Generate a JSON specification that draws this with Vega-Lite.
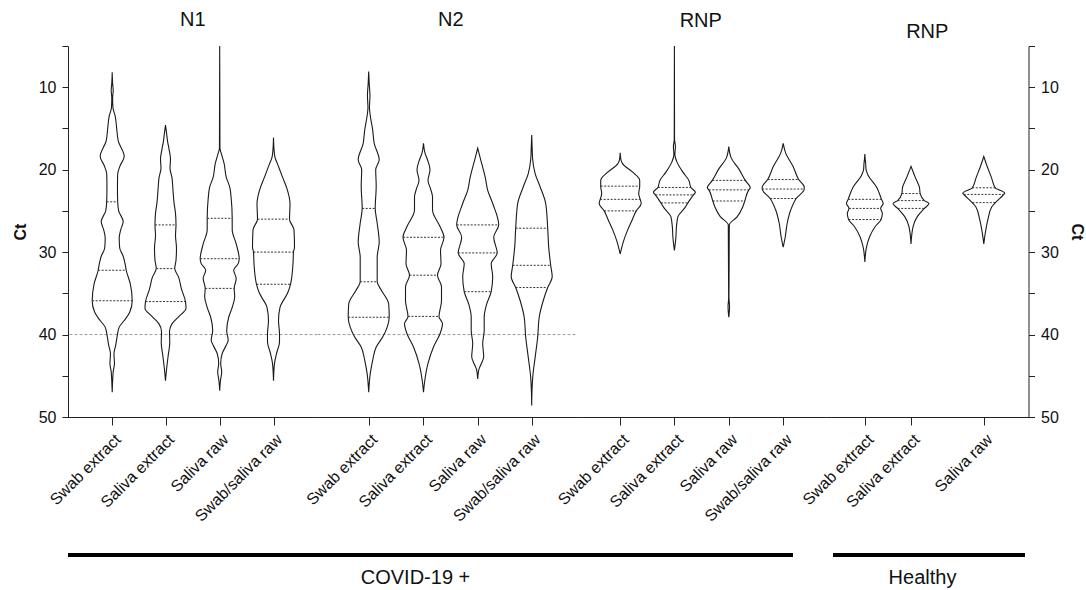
{
"$schema": "https://vega.github.io/schema/vega-lite/v6.json",
"padding": {"left": 12, "top": 9, "right": 0, "bottom": 0},
"data": {"values": [
{"group":"N1","sample":"Swab extract","ct":8.2,"density":0,"q":0},
{"group":"N1","sample":"Swab extract","ct":9.5,"density":0.008,"q":0},
{"group":"N1","sample":"Swab extract","ct":10.4,"density":0.02,"q":0},
{"group":"N1","sample":"Swab extract","ct":11.3,"density":0.008,"q":0},
{"group":"N1","sample":"Swab extract","ct":12.5,"density":0.015,"q":0},
{"group":"N1","sample":"Swab extract","ct":13.5,"density":0.06,"q":0},
{"group":"N1","sample":"Swab extract","ct":15,"density":0.09,"q":0},
{"group":"N1","sample":"Swab extract","ct":16.5,"density":0.12,"q":0},
{"group":"N1","sample":"Swab extract","ct":18.4,"density":0.24,"q":0},
{"group":"N1","sample":"Swab extract","ct":19.5,"density":0.16,"q":0},
{"group":"N1","sample":"Swab extract","ct":20.5,"density":0.11,"q":0},
{"group":"N1","sample":"Swab extract","ct":22,"density":0.105,"q":0},
{"group":"N1","sample":"Swab extract","ct":23.9,"density":0.11,"q":1},
{"group":"N1","sample":"Swab extract","ct":25,"density":0.13,"q":0},
{"group":"N1","sample":"Swab extract","ct":26.3,"density":0.22,"q":0},
{"group":"N1","sample":"Swab extract","ct":27.3,"density":0.17,"q":0},
{"group":"N1","sample":"Swab extract","ct":28.3,"density":0.14,"q":0},
{"group":"N1","sample":"Swab extract","ct":29.5,"density":0.15,"q":0},
{"group":"N1","sample":"Swab extract","ct":30.5,"density":0.22,"q":0},
{"group":"N1","sample":"Swab extract","ct":31.5,"density":0.26,"q":0},
{"group":"N1","sample":"Swab extract","ct":32.2,"density":0.28,"q":1},
{"group":"N1","sample":"Swab extract","ct":33.8,"density":0.36,"q":0},
{"group":"N1","sample":"Swab extract","ct":35.9,"density":0.4,"q":1},
{"group":"N1","sample":"Swab extract","ct":37.3,"density":0.35,"q":0},
{"group":"N1","sample":"Swab extract","ct":38.3,"density":0.24,"q":0},
{"group":"N1","sample":"Swab extract","ct":39.1,"density":0.14,"q":0},
{"group":"N1","sample":"Swab extract","ct":40.2,"density":0.1,"q":0},
{"group":"N1","sample":"Swab extract","ct":41.3,"density":0.07,"q":0},
{"group":"N1","sample":"Swab extract","ct":42.3,"density":0.035,"q":0},
{"group":"N1","sample":"Swab extract","ct":43.5,"density":0.045,"q":0},
{"group":"N1","sample":"Swab extract","ct":44.5,"density":0.02,"q":0},
{"group":"N1","sample":"Swab extract","ct":45.5,"density":0.01,"q":0},
{"group":"N1","sample":"Swab extract","ct":47,"density":0,"q":0},
{"group":"N1","sample":"Saliva extract","ct":14.6,"density":0,"q":0},
{"group":"N1","sample":"Saliva extract","ct":15.5,"density":0.02,"q":0},
{"group":"N1","sample":"Saliva extract","ct":16.5,"density":0.04,"q":0},
{"group":"N1","sample":"Saliva extract","ct":17.5,"density":0.07,"q":0},
{"group":"N1","sample":"Saliva extract","ct":18.7,"density":0.1,"q":0},
{"group":"N1","sample":"Saliva extract","ct":19.8,"density":0.09,"q":0},
{"group":"N1","sample":"Saliva extract","ct":21,"density":0.13,"q":0},
{"group":"N1","sample":"Saliva extract","ct":22.5,"density":0.15,"q":0},
{"group":"N1","sample":"Saliva extract","ct":24,"density":0.17,"q":0},
{"group":"N1","sample":"Saliva extract","ct":25.3,"density":0.2,"q":0},
{"group":"N1","sample":"Saliva extract","ct":26.7,"density":0.21,"q":1},
{"group":"N1","sample":"Saliva extract","ct":28,"density":0.2,"q":0},
{"group":"N1","sample":"Saliva extract","ct":29.5,"density":0.22,"q":0},
{"group":"N1","sample":"Saliva extract","ct":31,"density":0.21,"q":0},
{"group":"N1","sample":"Saliva extract","ct":32,"density":0.185,"q":1},
{"group":"N1","sample":"Saliva extract","ct":33,"density":0.26,"q":0},
{"group":"N1","sample":"Saliva extract","ct":34.5,"density":0.32,"q":0},
{"group":"N1","sample":"Saliva extract","ct":36,"density":0.4,"q":1},
{"group":"N1","sample":"Saliva extract","ct":36.8,"density":0.41,"q":0},
{"group":"N1","sample":"Saliva extract","ct":37.8,"density":0.27,"q":0},
{"group":"N1","sample":"Saliva extract","ct":38.7,"density":0.13,"q":0},
{"group":"N1","sample":"Saliva extract","ct":39.6,"density":0.08,"q":0},
{"group":"N1","sample":"Saliva extract","ct":41,"density":0.085,"q":0},
{"group":"N1","sample":"Saliva extract","ct":42.5,"density":0.055,"q":0},
{"group":"N1","sample":"Saliva extract","ct":44,"density":0.025,"q":0},
{"group":"N1","sample":"Saliva extract","ct":45.6,"density":0,"q":0},
{"group":"N1","sample":"Saliva raw","ct":5,"density":0,"q":0},
{"group":"N1","sample":"Saliva raw","ct":17.4,"density":0.005,"q":0},
{"group":"N1","sample":"Saliva raw","ct":18,"density":0.03,"q":0},
{"group":"N1","sample":"Saliva raw","ct":19.3,"density":0.09,"q":0},
{"group":"N1","sample":"Saliva raw","ct":20.9,"density":0.13,"q":0},
{"group":"N1","sample":"Saliva raw","ct":22.1,"density":0.2,"q":0},
{"group":"N1","sample":"Saliva raw","ct":23.5,"density":0.23,"q":0},
{"group":"N1","sample":"Saliva raw","ct":25.9,"density":0.25,"q":1},
{"group":"N1","sample":"Saliva raw","ct":27.3,"density":0.25,"q":0},
{"group":"N1","sample":"Saliva raw","ct":29,"density":0.33,"q":0},
{"group":"N1","sample":"Saliva raw","ct":30.8,"density":0.39,"q":1},
{"group":"N1","sample":"Saliva raw","ct":31.4,"density":0.37,"q":0},
{"group":"N1","sample":"Saliva raw","ct":32.2,"density":0.28,"q":0},
{"group":"N1","sample":"Saliva raw","ct":33.2,"density":0.33,"q":0},
{"group":"N1","sample":"Saliva raw","ct":34.4,"density":0.29,"q":1},
{"group":"N1","sample":"Saliva raw","ct":35.4,"density":0.3,"q":0},
{"group":"N1","sample":"Saliva raw","ct":36.7,"density":0.25,"q":0},
{"group":"N1","sample":"Saliva raw","ct":37.9,"density":0.18,"q":0},
{"group":"N1","sample":"Saliva raw","ct":39.5,"density":0.14,"q":0},
{"group":"N1","sample":"Saliva raw","ct":40.7,"density":0.17,"q":0},
{"group":"N1","sample":"Saliva raw","ct":41.3,"density":0.13,"q":0},
{"group":"N1","sample":"Saliva raw","ct":42.3,"density":0.05,"q":0},
{"group":"N1","sample":"Saliva raw","ct":43.5,"density":0.02,"q":0},
{"group":"N1","sample":"Saliva raw","ct":44.5,"density":0.04,"q":0},
{"group":"N1","sample":"Saliva raw","ct":45.6,"density":0.015,"q":0},
{"group":"N1","sample":"Saliva raw","ct":46.8,"density":0,"q":0},
{"group":"N1","sample":"Swab/saliva raw","ct":16.1,"density":0,"q":0},
{"group":"N1","sample":"Swab/saliva raw","ct":17.5,"density":0.01,"q":0},
{"group":"N1","sample":"Swab/saliva raw","ct":18.5,"density":0.03,"q":0},
{"group":"N1","sample":"Swab/saliva raw","ct":19.3,"density":0.08,"q":0},
{"group":"N1","sample":"Swab/saliva raw","ct":20.9,"density":0.18,"q":0},
{"group":"N1","sample":"Swab/saliva raw","ct":22.5,"density":0.28,"q":0},
{"group":"N1","sample":"Swab/saliva raw","ct":24.1,"density":0.33,"q":0},
{"group":"N1","sample":"Swab/saliva raw","ct":26,"density":0.32,"q":1},
{"group":"N1","sample":"Swab/saliva raw","ct":27.3,"density":0.41,"q":0},
{"group":"N1","sample":"Swab/saliva raw","ct":29.4,"density":0.42,"q":0},
{"group":"N1","sample":"Swab/saliva raw","ct":30,"density":0.4,"q":1},
{"group":"N1","sample":"Swab/saliva raw","ct":31.4,"density":0.39,"q":0},
{"group":"N1","sample":"Swab/saliva raw","ct":33.9,"density":0.34,"q":1},
{"group":"N1","sample":"Swab/saliva raw","ct":35,"density":0.28,"q":0},
{"group":"N1","sample":"Swab/saliva raw","ct":36.7,"density":0.13,"q":0},
{"group":"N1","sample":"Swab/saliva raw","ct":38.3,"density":0.1,"q":0},
{"group":"N1","sample":"Swab/saliva raw","ct":39.9,"density":0.12,"q":0},
{"group":"N1","sample":"Swab/saliva raw","ct":40.9,"density":0.12,"q":0},
{"group":"N1","sample":"Swab/saliva raw","ct":42.3,"density":0.06,"q":0},
{"group":"N1","sample":"Swab/saliva raw","ct":43.5,"density":0.02,"q":0},
{"group":"N1","sample":"Swab/saliva raw","ct":45.6,"density":0,"q":0},
{"group":"N2","sample":"Swab extract","ct":8.1,"density":0,"q":0},
{"group":"N2","sample":"Swab extract","ct":9.5,"density":0.01,"q":0},
{"group":"N2","sample":"Swab extract","ct":11,"density":0.025,"q":0},
{"group":"N2","sample":"Swab extract","ct":12.5,"density":0.015,"q":0},
{"group":"N2","sample":"Swab extract","ct":13.4,"density":0.03,"q":0},
{"group":"N2","sample":"Swab extract","ct":15.2,"density":0.08,"q":0},
{"group":"N2","sample":"Swab extract","ct":16.8,"density":0.11,"q":0},
{"group":"N2","sample":"Swab extract","ct":18.8,"density":0.21,"q":0},
{"group":"N2","sample":"Swab extract","ct":20,"density":0.14,"q":0},
{"group":"N2","sample":"Swab extract","ct":22,"density":0.15,"q":0},
{"group":"N2","sample":"Swab extract","ct":24.7,"density":0.13,"q":1},
{"group":"N2","sample":"Swab extract","ct":26.5,"density":0.17,"q":0},
{"group":"N2","sample":"Swab extract","ct":28.8,"density":0.21,"q":0},
{"group":"N2","sample":"Swab extract","ct":30.6,"density":0.17,"q":0},
{"group":"N2","sample":"Swab extract","ct":33.6,"density":0.17,"q":1},
{"group":"N2","sample":"Swab extract","ct":34.6,"density":0.25,"q":0},
{"group":"N2","sample":"Swab extract","ct":36.3,"density":0.4,"q":0},
{"group":"N2","sample":"Swab extract","ct":37.9,"density":0.41,"q":1},
{"group":"N2","sample":"Swab extract","ct":39.1,"density":0.37,"q":0},
{"group":"N2","sample":"Swab extract","ct":40.3,"density":0.28,"q":0},
{"group":"N2","sample":"Swab extract","ct":41.5,"density":0.15,"q":0},
{"group":"N2","sample":"Swab extract","ct":43.1,"density":0.08,"q":0},
{"group":"N2","sample":"Swab extract","ct":44.8,"density":0.03,"q":0},
{"group":"N2","sample":"Swab extract","ct":47,"density":0,"q":0},
{"group":"N2","sample":"Saliva extract","ct":16.8,"density":0,"q":0},
{"group":"N2","sample":"Saliva extract","ct":18,"density":0.03,"q":0},
{"group":"N2","sample":"Saliva extract","ct":18.8,"density":0.08,"q":0},
{"group":"N2","sample":"Saliva extract","ct":20,"density":0.13,"q":0},
{"group":"N2","sample":"Saliva extract","ct":21.3,"density":0.09,"q":0},
{"group":"N2","sample":"Saliva extract","ct":22.3,"density":0.14,"q":0},
{"group":"N2","sample":"Saliva extract","ct":23.3,"density":0.18,"q":0},
{"group":"N2","sample":"Saliva extract","ct":24.9,"density":0.18,"q":0},
{"group":"N2","sample":"Saliva extract","ct":26.9,"density":0.33,"q":0},
{"group":"N2","sample":"Saliva extract","ct":28.2,"density":0.41,"q":1},
{"group":"N2","sample":"Saliva extract","ct":29.8,"density":0.34,"q":0},
{"group":"N2","sample":"Saliva extract","ct":31.4,"density":0.35,"q":0},
{"group":"N2","sample":"Saliva extract","ct":32.8,"density":0.28,"q":1},
{"group":"N2","sample":"Saliva extract","ct":34.2,"density":0.36,"q":0},
{"group":"N2","sample":"Saliva extract","ct":35.9,"density":0.36,"q":0},
{"group":"N2","sample":"Saliva extract","ct":37.8,"density":0.31,"q":1},
{"group":"N2","sample":"Saliva extract","ct":38.7,"density":0.38,"q":0},
{"group":"N2","sample":"Saliva extract","ct":39.9,"density":0.33,"q":0},
{"group":"N2","sample":"Saliva extract","ct":41.5,"density":0.2,"q":0},
{"group":"N2","sample":"Saliva extract","ct":43.5,"density":0.09,"q":0},
{"group":"N2","sample":"Saliva extract","ct":45.6,"density":0.025,"q":0},
{"group":"N2","sample":"Saliva extract","ct":47,"density":0,"q":0},
{"group":"N2","sample":"Saliva raw","ct":17.4,"density":0,"q":0},
{"group":"N2","sample":"Saliva raw","ct":18.8,"density":0.06,"q":0},
{"group":"N2","sample":"Saliva raw","ct":20.9,"density":0.15,"q":0},
{"group":"N2","sample":"Saliva raw","ct":22.5,"density":0.2,"q":0},
{"group":"N2","sample":"Saliva raw","ct":24.1,"density":0.3,"q":0},
{"group":"N2","sample":"Saliva raw","ct":26.7,"density":0.42,"q":1},
{"group":"N2","sample":"Saliva raw","ct":28.2,"density":0.32,"q":0},
{"group":"N2","sample":"Saliva raw","ct":30.1,"density":0.39,"q":1},
{"group":"N2","sample":"Saliva raw","ct":31.4,"density":0.27,"q":0},
{"group":"N2","sample":"Saliva raw","ct":33,"density":0.3,"q":0},
{"group":"N2","sample":"Saliva raw","ct":34.8,"density":0.27,"q":1},
{"group":"N2","sample":"Saliva raw","ct":36.3,"density":0.18,"q":0},
{"group":"N2","sample":"Saliva raw","ct":37.9,"density":0.13,"q":0},
{"group":"N2","sample":"Saliva raw","ct":39.5,"density":0.13,"q":0},
{"group":"N2","sample":"Saliva raw","ct":41.1,"density":0.1,"q":0},
{"group":"N2","sample":"Saliva raw","ct":42.7,"density":0.12,"q":0},
{"group":"N2","sample":"Saliva raw","ct":43.7,"density":0.06,"q":0},
{"group":"N2","sample":"Saliva raw","ct":44.3,"density":0.02,"q":0},
{"group":"N2","sample":"Saliva raw","ct":45.4,"density":0,"q":0},
{"group":"N2","sample":"Swab/saliva raw","ct":15.8,"density":0,"q":0},
{"group":"N2","sample":"Swab/saliva raw","ct":17.5,"density":0.01,"q":0},
{"group":"N2","sample":"Swab/saliva raw","ct":18.8,"density":0.02,"q":0},
{"group":"N2","sample":"Swab/saliva raw","ct":20.5,"density":0.07,"q":0},
{"group":"N2","sample":"Swab/saliva raw","ct":22.1,"density":0.17,"q":0},
{"group":"N2","sample":"Swab/saliva raw","ct":24.1,"density":0.28,"q":0},
{"group":"N2","sample":"Swab/saliva raw","ct":27.1,"density":0.32,"q":1},
{"group":"N2","sample":"Swab/saliva raw","ct":29.4,"density":0.34,"q":0},
{"group":"N2","sample":"Swab/saliva raw","ct":31.6,"density":0.38,"q":1},
{"group":"N2","sample":"Swab/saliva raw","ct":33,"density":0.41,"q":0},
{"group":"N2","sample":"Swab/saliva raw","ct":34.3,"density":0.32,"q":1},
{"group":"N2","sample":"Swab/saliva raw","ct":35.9,"density":0.23,"q":0},
{"group":"N2","sample":"Swab/saliva raw","ct":37.9,"density":0.15,"q":0},
{"group":"N2","sample":"Swab/saliva raw","ct":40.3,"density":0.12,"q":0},
{"group":"N2","sample":"Swab/saliva raw","ct":42.7,"density":0.07,"q":0},
{"group":"N2","sample":"Swab/saliva raw","ct":45.2,"density":0.02,"q":0},
{"group":"N2","sample":"Swab/saliva raw","ct":46.8,"density":0.006,"q":0},
{"group":"N2","sample":"Swab/saliva raw","ct":48.6,"density":0,"q":0},
{"group":"RNP","sample":"Swab extract","ct":17.95,"density":0,"q":0},
{"group":"RNP","sample":"Swab extract","ct":18.8,"density":0.015,"q":0},
{"group":"RNP","sample":"Swab extract","ct":19.3,"density":0.05,"q":0},
{"group":"RNP","sample":"Swab extract","ct":20.3,"density":0.25,"q":0},
{"group":"RNP","sample":"Swab extract","ct":21.3,"density":0.39,"q":0},
{"group":"RNP","sample":"Swab extract","ct":22,"density":0.39,"q":1},
{"group":"RNP","sample":"Swab extract","ct":22.9,"density":0.37,"q":0},
{"group":"RNP","sample":"Swab extract","ct":23.6,"density":0.4,"q":1},
{"group":"RNP","sample":"Swab extract","ct":24.1,"density":0.42,"q":0},
{"group":"RNP","sample":"Swab extract","ct":25,"density":0.32,"q":1},
{"group":"RNP","sample":"Swab extract","ct":26.1,"density":0.24,"q":0},
{"group":"RNP","sample":"Swab extract","ct":27.3,"density":0.15,"q":0},
{"group":"RNP","sample":"Swab extract","ct":28.6,"density":0.07,"q":0},
{"group":"RNP","sample":"Swab extract","ct":30.2,"density":0,"q":0},
{"group":"RNP","sample":"Saliva extract","ct":5,"density":0,"q":0},
{"group":"RNP","sample":"Saliva extract","ct":16.3,"density":0.003,"q":0},
{"group":"RNP","sample":"Saliva extract","ct":17.2,"density":0.02,"q":0},
{"group":"RNP","sample":"Saliva extract","ct":18.2,"density":0.01,"q":0},
{"group":"RNP","sample":"Saliva extract","ct":19.05,"density":0.05,"q":0},
{"group":"RNP","sample":"Saliva extract","ct":20.3,"density":0.17,"q":0},
{"group":"RNP","sample":"Saliva extract","ct":21.3,"density":0.29,"q":0},
{"group":"RNP","sample":"Saliva extract","ct":22.16,"density":0.33,"q":1},
{"group":"RNP","sample":"Saliva extract","ct":22.75,"density":0.42,"q":0},
{"group":"RNP","sample":"Saliva extract","ct":23.06,"density":0.38,"q":1},
{"group":"RNP","sample":"Saliva extract","ct":24.03,"density":0.27,"q":1},
{"group":"RNP","sample":"Saliva extract","ct":24.7,"density":0.2,"q":0},
{"group":"RNP","sample":"Saliva extract","ct":25.7,"density":0.07,"q":0},
{"group":"RNP","sample":"Saliva extract","ct":27,"density":0.04,"q":0},
{"group":"RNP","sample":"Saliva extract","ct":28.2,"density":0.03,"q":0},
{"group":"RNP","sample":"Saliva extract","ct":29.8,"density":0,"q":0},
{"group":"RNP","sample":"Saliva raw","ct":17.2,"density":0,"q":0},
{"group":"RNP","sample":"Saliva raw","ct":18.6,"density":0.05,"q":0},
{"group":"RNP","sample":"Saliva raw","ct":19.9,"density":0.2,"q":0},
{"group":"RNP","sample":"Saliva raw","ct":21.3,"density":0.33,"q":1},
{"group":"RNP","sample":"Saliva raw","ct":22.2,"density":0.43,"q":0},
{"group":"RNP","sample":"Saliva raw","ct":22.45,"density":0.4,"q":1},
{"group":"RNP","sample":"Saliva raw","ct":23.8,"density":0.32,"q":1},
{"group":"RNP","sample":"Saliva raw","ct":24.5,"density":0.28,"q":0},
{"group":"RNP","sample":"Saliva raw","ct":25.7,"density":0.17,"q":0},
{"group":"RNP","sample":"Saliva raw","ct":26.7,"density":0.01,"q":0},
{"group":"RNP","sample":"Saliva raw","ct":35.5,"density":0.003,"q":0},
{"group":"RNP","sample":"Saliva raw","ct":36.6,"density":0.015,"q":0},
{"group":"RNP","sample":"Saliva raw","ct":37.3,"density":0.01,"q":0},
{"group":"RNP","sample":"Saliva raw","ct":37.9,"density":0,"q":0},
{"group":"RNP","sample":"Swab/saliva raw","ct":16.8,"density":0,"q":0},
{"group":"RNP","sample":"Swab/saliva raw","ct":18,"density":0.05,"q":0},
{"group":"RNP","sample":"Swab/saliva raw","ct":19.65,"density":0.2,"q":0},
{"group":"RNP","sample":"Swab/saliva raw","ct":21.2,"density":0.31,"q":1},
{"group":"RNP","sample":"Swab/saliva raw","ct":22.1,"density":0.42,"q":0},
{"group":"RNP","sample":"Swab/saliva raw","ct":22.35,"density":0.42,"q":1},
{"group":"RNP","sample":"Swab/saliva raw","ct":23.5,"density":0.26,"q":1},
{"group":"RNP","sample":"Swab/saliva raw","ct":24.9,"density":0.15,"q":0},
{"group":"RNP","sample":"Swab/saliva raw","ct":26.5,"density":0.08,"q":0},
{"group":"RNP","sample":"Swab/saliva raw","ct":28.2,"density":0.04,"q":0},
{"group":"RNP","sample":"Swab/saliva raw","ct":29.4,"density":0,"q":0},
{"group":"RNP healthy","sample":"Swab extract","ct":18.1,"density":0,"q":0},
{"group":"RNP healthy","sample":"Swab extract","ct":18.8,"density":0.01,"q":0},
{"group":"RNP healthy","sample":"Swab extract","ct":19.25,"density":0.02,"q":0},
{"group":"RNP healthy","sample":"Swab extract","ct":20,"density":0.03,"q":0},
{"group":"RNP healthy","sample":"Swab extract","ct":20.7,"density":0.08,"q":0},
{"group":"RNP healthy","sample":"Swab extract","ct":22.1,"density":0.28,"q":0},
{"group":"RNP healthy","sample":"Swab extract","ct":23.6,"density":0.4,"q":1},
{"group":"RNP healthy","sample":"Swab extract","ct":24.1,"density":0.44,"q":0},
{"group":"RNP healthy","sample":"Swab extract","ct":24.7,"density":0.38,"q":1},
{"group":"RNP healthy","sample":"Swab extract","ct":25.3,"density":0.42,"q":0},
{"group":"RNP healthy","sample":"Swab extract","ct":26.05,"density":0.39,"q":1},
{"group":"RNP healthy","sample":"Swab extract","ct":26.9,"density":0.25,"q":0},
{"group":"RNP healthy","sample":"Swab extract","ct":28.2,"density":0.11,"q":0},
{"group":"RNP healthy","sample":"Swab extract","ct":29.4,"density":0.04,"q":0},
{"group":"RNP healthy","sample":"Swab extract","ct":31.2,"density":0,"q":0},
{"group":"RNP healthy","sample":"Saliva extract","ct":19.6,"density":0,"q":0},
{"group":"RNP healthy","sample":"Saliva extract","ct":20.9,"density":0.1,"q":0},
{"group":"RNP healthy","sample":"Saliva extract","ct":22.1,"density":0.2,"q":0},
{"group":"RNP healthy","sample":"Saliva extract","ct":22.9,"density":0.22,"q":1},
{"group":"RNP healthy","sample":"Saliva extract","ct":23.75,"density":0.32,"q":1},
{"group":"RNP healthy","sample":"Saliva extract","ct":24.1,"density":0.43,"q":0},
{"group":"RNP healthy","sample":"Saliva extract","ct":24.7,"density":0.32,"q":1},
{"group":"RNP healthy","sample":"Saliva extract","ct":25.7,"density":0.15,"q":0},
{"group":"RNP healthy","sample":"Saliva extract","ct":26.9,"density":0.05,"q":0},
{"group":"RNP healthy","sample":"Saliva extract","ct":29,"density":0,"q":0},
{"group":"RNP healthy","sample":"Saliva raw","ct":18.4,"density":0,"q":0},
{"group":"RNP healthy","sample":"Saliva raw","ct":19.65,"density":0.07,"q":0},
{"group":"RNP healthy","sample":"Saliva raw","ct":20.9,"density":0.15,"q":0},
{"group":"RNP healthy","sample":"Saliva raw","ct":22.2,"density":0.23,"q":1},
{"group":"RNP healthy","sample":"Saliva raw","ct":22.85,"density":0.42,"q":0},
{"group":"RNP healthy","sample":"Saliva raw","ct":23,"density":0.4,"q":1},
{"group":"RNP healthy","sample":"Saliva raw","ct":24,"density":0.23,"q":1},
{"group":"RNP healthy","sample":"Saliva raw","ct":24.5,"density":0.16,"q":0},
{"group":"RNP healthy","sample":"Saliva raw","ct":26.1,"density":0.08,"q":0},
{"group":"RNP healthy","sample":"Saliva raw","ct":27.3,"density":0.04,"q":0},
{"group":"RNP healthy","sample":"Saliva raw","ct":29,"density":0,"q":0}
]},
"transform": [{"stack": "density", "groupby": ["group", "sample", "ct"], "offset": "center", "as": ["d0", "d1"]}],
"spacing": 26,
"vconcat": [
{
"hconcat": [
{
"width": 249.5, "height": 371,
"title": {"text": "N1", "offset": 7.8},
"encoding": {"y": {"field": "ct", "type": "quantitative", "scale": {"domain": [5, 50], "reverse": true, "zero": false, "nice": false},
  "axis": {"orient": "left", "values": [5,10,15,20,25,30,35,40,45,50], "labelExpr": "datum.value % 10 === 0 ? datum.label : ''", "title": "Ct"}}},
"layer": [
{"data": {"values": [{"ct": 40}]}, "mark": {"type": "rule", "color": "#9a9a9a", "strokeDash": [3, 2], "strokeWidth": 1}},
{"transform": [{"filter": "datum.group === 'N1' && datum.sample === 'Swab extract'"}],
 "encoding": {"x": {"field": "d0", "type": "quantitative", "stack": null, "title": null, "scale": {"domain": [-0.222, 2.273], "zero": false, "nice": false}, "axis": {"orient": "bottom", "values": [0.22], "labelExpr": "'Swab extract'"}}, "x2": {"field": "d1"}},
 "layer": [{"mark": {"type": "area", "orient": "horizontal", "interpolate": "monotone", "fillOpacity": 0, "stroke": "#1a1a1a", "strokeWidth": 1.1}},
  {"transform": [{"filter": "datum.q === 1"}], "mark": {"type": "rule", "strokeDash": [2, 1.5], "strokeWidth": 1, "color": "#333"}}]},
{"transform": [{"filter": "datum.group === 'N1' && datum.sample === 'Saliva extract'"}],
 "encoding": {"x": {"field": "d0", "type": "quantitative", "stack": null, "title": null, "scale": {"domain": [-0.755, 1.74], "zero": false, "nice": false}, "axis": {"orient": "bottom", "values": [0.22], "labelExpr": "'Saliva extract'"}}, "x2": {"field": "d1"}},
 "layer": [{"mark": {"type": "area", "orient": "horizontal", "interpolate": "monotone", "fillOpacity": 0, "stroke": "#1a1a1a", "strokeWidth": 1.1}},
  {"transform": [{"filter": "datum.q === 1"}], "mark": {"type": "rule", "strokeDash": [2, 1.5], "strokeWidth": 1, "color": "#333"}}]},
{"transform": [{"filter": "datum.group === 'N1' && datum.sample === 'Saliva raw'"}],
 "encoding": {"x": {"field": "d0", "type": "quantitative", "stack": null, "title": null, "scale": {"domain": [-1.297, 1.198], "zero": false, "nice": false}, "axis": {"orient": "bottom", "values": [0.22], "labelExpr": "'Saliva raw'"}}, "x2": {"field": "d1"}},
 "layer": [{"mark": {"type": "area", "orient": "horizontal", "interpolate": "monotone", "fillOpacity": 0, "stroke": "#1a1a1a", "strokeWidth": 1.1}},
  {"transform": [{"filter": "datum.q === 1"}], "mark": {"type": "rule", "strokeDash": [2, 1.5], "strokeWidth": 1, "color": "#333"}}]},
{"transform": [{"filter": "datum.group === 'N1' && datum.sample === 'Swab/saliva raw'"}],
 "encoding": {"x": {"field": "d0", "type": "quantitative", "stack": null, "title": null, "scale": {"domain": [-1.835, 0.66], "zero": false, "nice": false}, "axis": {"orient": "bottom", "values": [0.22], "labelExpr": "'Swab/saliva raw'"}}, "x2": {"field": "d1"}},
 "layer": [{"mark": {"type": "area", "orient": "horizontal", "interpolate": "monotone", "fillOpacity": 0, "stroke": "#1a1a1a", "strokeWidth": 1.1}},
  {"transform": [{"filter": "datum.q === 1"}], "mark": {"type": "rule", "strokeDash": [2, 1.5], "strokeWidth": 1, "color": "#333"}}]}
],
"resolve": {"scale": {"x": "independent"}, "axis": {"x": "independent"}}
},
{
"width": 257.5, "height": 371,
"title": {"text": "N2", "dx": 4, "offset": 16.3},
"encoding": {"y": {"field": "ct", "type": "quantitative", "scale": {"domain": [5, 50], "reverse": true, "zero": false, "nice": false}, "axis": null}},
"layer": [
{"data": {"values": [{"ct": 40}]}, "mark": {"type": "rule", "color": "#9a9a9a", "strokeDash": [3, 2], "strokeWidth": 1}},
{"transform": [{"filter": "datum.group === 'N2' && datum.sample === 'Swab extract'"}],
 "encoding": {"x": {"field": "d0", "type": "quantitative", "stack": null, "title": null, "scale": {"domain": [-0.287, 2.288], "zero": false, "nice": false}, "axis": {"orient": "bottom", "values": [0.22], "labelExpr": "'Swab extract'"}}, "x2": {"field": "d1"}},
 "layer": [{"mark": {"type": "area", "orient": "horizontal", "interpolate": "monotone", "fillOpacity": 0, "stroke": "#1a1a1a", "strokeWidth": 1.1}},
  {"transform": [{"filter": "datum.q === 1"}], "mark": {"type": "rule", "strokeDash": [2, 1.5], "strokeWidth": 1, "color": "#333"}}]},
{"transform": [{"filter": "datum.group === 'N2' && datum.sample === 'Saliva extract'"}],
 "encoding": {"x": {"field": "d0", "type": "quantitative", "stack": null, "title": null, "scale": {"domain": [-0.835, 1.74], "zero": false, "nice": false}, "axis": {"orient": "bottom", "values": [0.22], "labelExpr": "'Saliva extract'"}}, "x2": {"field": "d1"}},
 "layer": [{"mark": {"type": "area", "orient": "horizontal", "interpolate": "monotone", "fillOpacity": 0, "stroke": "#1a1a1a", "strokeWidth": 1.1}},
  {"transform": [{"filter": "datum.q === 1"}], "mark": {"type": "rule", "strokeDash": [2, 1.5], "strokeWidth": 1, "color": "#333"}}]},
{"transform": [{"filter": "datum.group === 'N2' && datum.sample === 'Saliva raw'"}],
 "encoding": {"x": {"field": "d0", "type": "quantitative", "stack": null, "title": null, "scale": {"domain": [-1.377, 1.198], "zero": false, "nice": false}, "axis": {"orient": "bottom", "values": [0.22], "labelExpr": "'Saliva raw'"}}, "x2": {"field": "d1"}},
 "layer": [{"mark": {"type": "area", "orient": "horizontal", "interpolate": "monotone", "fillOpacity": 0, "stroke": "#1a1a1a", "strokeWidth": 1.1}},
  {"transform": [{"filter": "datum.q === 1"}], "mark": {"type": "rule", "strokeDash": [2, 1.5], "strokeWidth": 1, "color": "#333"}}]},
{"transform": [{"filter": "datum.group === 'N2' && datum.sample === 'Swab/saliva raw'"}],
 "encoding": {"x": {"field": "d0", "type": "quantitative", "stack": null, "title": null, "scale": {"domain": [-1.917, 0.658], "zero": false, "nice": false}, "axis": {"orient": "bottom", "values": [0.22], "labelExpr": "'Swab/saliva raw'"}}, "x2": {"field": "d1"}},
 "layer": [{"mark": {"type": "area", "orient": "horizontal", "interpolate": "monotone", "fillOpacity": 0, "stroke": "#1a1a1a", "strokeWidth": 1.1}},
  {"transform": [{"filter": "datum.q === 1"}], "mark": {"type": "rule", "strokeDash": [2, 1.5], "strokeWidth": 1, "color": "#333"}}]}
],
"resolve": {"scale": {"x": "independent"}, "axis": {"x": "independent"}}
},
{
"width": 249.5, "height": 371,
"title": {"text": "RNP", "offset": 13.3},
"encoding": {"y": {"field": "ct", "type": "quantitative", "scale": {"domain": [5, 50], "reverse": true, "zero": false, "nice": false}, "axis": null}},
"layer": [
{"transform": [{"filter": "datum.group === 'RNP' && datum.sample === 'Swab extract'"}],
 "encoding": {"x": {"field": "d0", "type": "quantitative", "stack": null, "title": null, "scale": {"domain": [-0.222, 2.273], "zero": false, "nice": false}, "axis": {"orient": "bottom", "values": [0.22], "labelExpr": "'Swab extract'"}}, "x2": {"field": "d1"}},
 "layer": [{"mark": {"type": "area", "orient": "horizontal", "interpolate": "monotone", "fillOpacity": 0, "stroke": "#1a1a1a", "strokeWidth": 1.1}},
  {"transform": [{"filter": "datum.q === 1"}], "mark": {"type": "rule", "strokeDash": [2, 1.5], "strokeWidth": 1, "color": "#333"}}]},
{"transform": [{"filter": "datum.group === 'RNP' && datum.sample === 'Saliva extract'"}],
 "encoding": {"x": {"field": "d0", "type": "quantitative", "stack": null, "title": null, "scale": {"domain": [-0.764, 1.731], "zero": false, "nice": false}, "axis": {"orient": "bottom", "values": [0.22], "labelExpr": "'Saliva extract'"}}, "x2": {"field": "d1"}},
 "layer": [{"mark": {"type": "area", "orient": "horizontal", "interpolate": "monotone", "fillOpacity": 0, "stroke": "#1a1a1a", "strokeWidth": 1.1}},
  {"transform": [{"filter": "datum.q === 1"}], "mark": {"type": "rule", "strokeDash": [2, 1.5], "strokeWidth": 1, "color": "#333"}}]},
{"transform": [{"filter": "datum.group === 'RNP' && datum.sample === 'Saliva raw'"}],
 "encoding": {"x": {"field": "d0", "type": "quantitative", "stack": null, "title": null, "scale": {"domain": [-1.308, 1.187], "zero": false, "nice": false}, "axis": {"orient": "bottom", "values": [0.22], "labelExpr": "'Saliva raw'"}}, "x2": {"field": "d1"}},
 "layer": [{"mark": {"type": "area", "orient": "horizontal", "interpolate": "monotone", "fillOpacity": 0, "stroke": "#1a1a1a", "strokeWidth": 1.1}},
  {"transform": [{"filter": "datum.q === 1"}], "mark": {"type": "rule", "strokeDash": [2, 1.5], "strokeWidth": 1, "color": "#333"}}]},
{"transform": [{"filter": "datum.group === 'RNP' && datum.sample === 'Swab/saliva raw'"}],
 "encoding": {"x": {"field": "d0", "type": "quantitative", "stack": null, "title": null, "scale": {"domain": [-1.852, 0.643], "zero": false, "nice": false}, "axis": {"orient": "bottom", "values": [0.22], "labelExpr": "'Swab/saliva raw'"}}, "x2": {"field": "d1"}},
 "layer": [{"mark": {"type": "area", "orient": "horizontal", "interpolate": "monotone", "fillOpacity": 0, "stroke": "#1a1a1a", "strokeWidth": 1.1}},
  {"transform": [{"filter": "datum.q === 1"}], "mark": {"type": "rule", "strokeDash": [2, 1.5], "strokeWidth": 1, "color": "#333"}}]}
],
"resolve": {"scale": {"x": "independent"}, "axis": {"x": "independent"}}
},
{
"width": 202.5, "height": 371,
"title": {"text": "RNP", "offset": -3.7},
"encoding": {"y": {"field": "ct", "type": "quantitative", "scale": {"domain": [5, 50], "reverse": true, "zero": false, "nice": false},
  "axis": {"orient": "right", "values": [5,10,15,20,25,30,35,40,45,50], "labelExpr": "datum.value % 10 === 0 ? datum.label : ''", "title": "Ct"}}},
"layer": [
{"transform": [{"filter": "datum.group === 'RNP healthy' && datum.sample === 'Swab extract'"}],
 "encoding": {"x": {"field": "d0", "type": "quantitative", "stack": null, "title": null, "scale": {"domain": [-0.245, 2.18], "zero": false, "nice": false}, "axis": {"orient": "bottom", "values": [0.22], "labelExpr": "'Swab extract'"}}, "x2": {"field": "d1"}},
 "layer": [{"mark": {"type": "area", "orient": "horizontal", "interpolate": "monotone", "fillOpacity": 0, "stroke": "#1a1a1a", "strokeWidth": 1.1}},
  {"transform": [{"filter": "datum.q === 1"}], "mark": {"type": "rule", "strokeDash": [2, 1.5], "strokeWidth": 1, "color": "#333"}}]},
{"transform": [{"filter": "datum.group === 'RNP healthy' && datum.sample === 'Saliva extract'"}],
 "encoding": {"x": {"field": "d0", "type": "quantitative", "stack": null, "title": null, "scale": {"domain": [-0.798, 1.627], "zero": false, "nice": false}, "axis": {"orient": "bottom", "values": [0.22], "labelExpr": "'Saliva extract'"}}, "x2": {"field": "d1"}},
 "layer": [{"mark": {"type": "area", "orient": "horizontal", "interpolate": "monotone", "fillOpacity": 0, "stroke": "#1a1a1a", "strokeWidth": 1.1}},
  {"transform": [{"filter": "datum.q === 1"}], "mark": {"type": "rule", "strokeDash": [2, 1.5], "strokeWidth": 1, "color": "#333"}}]},
{"transform": [{"filter": "datum.group === 'RNP healthy' && datum.sample === 'Saliva raw'"}],
 "encoding": {"x": {"field": "d0", "type": "quantitative", "stack": null, "title": null, "scale": {"domain": [-1.358, 0.667], "zero": false, "nice": false}, "axis": {"orient": "bottom", "values": [0.22], "labelExpr": "'Saliva raw'"}}, "x2": {"field": "d1"}},
 "layer": [{"mark": {"type": "area", "orient": "horizontal", "interpolate": "monotone", "fillOpacity": 0, "stroke": "#1a1a1a", "strokeWidth": 1.1}},
  {"transform": [{"filter": "datum.q === 1"}], "mark": {"type": "rule", "strokeDash": [2, 1.5], "strokeWidth": 1, "color": "#333"}}]}
],
"resolve": {"scale": {"x": "independent"}, "axis": {"x": "independent"}}
}
],
"spacing": 0,
"bounds": "flush"
},
{
"hconcat": [
{"width": 725, "height": 8, "data": {"values": [{"cohort": "COVID-19 +"}]},
 "mark": {"type": "rule", "strokeWidth": 4, "color": "#000"},
 "encoding": {"y": {"field": "cohort", "type": "nominal", "axis": {"orient": "left", "labels": false, "ticks": false, "domain": false, "title": null, "minExtent": 56, "maxExtent": 56}}},
 "title": {"text": "COVID-19 +", "orient": "bottom", "fontSize": 20, "offset": 9.3, "dx": -15}},
{"width": 192, "height": 8, "data": {"values": [{"cohort": "Healthy"}]},
 "mark": {"type": "rule", "strokeWidth": 4, "color": "#000"},
 "encoding": {"y": {"field": "cohort", "type": "nominal", "axis": null}},
 "title": {"text": "Healthy", "orient": "bottom", "fontSize": 20, "offset": 9.3, "dx": -6.5}}
],
"spacing": 40,
"bounds": "flush"
}
],
"config": {
 "view": {"stroke": null},
 "font": "Liberation Sans",
 "axis": {"grid": false, "domainColor": "#222", "tickColor": "#222", "labelColor": "#111", "titleColor": "#111", "labelFont": "Liberation Sans", "titleFont": "Liberation Sans", "labelOverlap": false, "labelBound": false},
 "axisX": {"labelAngle": -45, "labelFontSize": 16, "tickSize": 8, "labelPadding": 6, "labelFlush": false},
 "axisY": {"tickSize": 6, "labelFontSize": 16, "labelPadding": 6, "titleFontSize": 16, "titleFontWeight": "bold", "titlePadding": 10},
 "title": {"font": "Liberation Sans", "fontSize": 20, "fontWeight": "normal", "color": "#111", "anchor": "middle", "frame": "group", "baseline": "alphabetic", "offset": 19}
}
}
